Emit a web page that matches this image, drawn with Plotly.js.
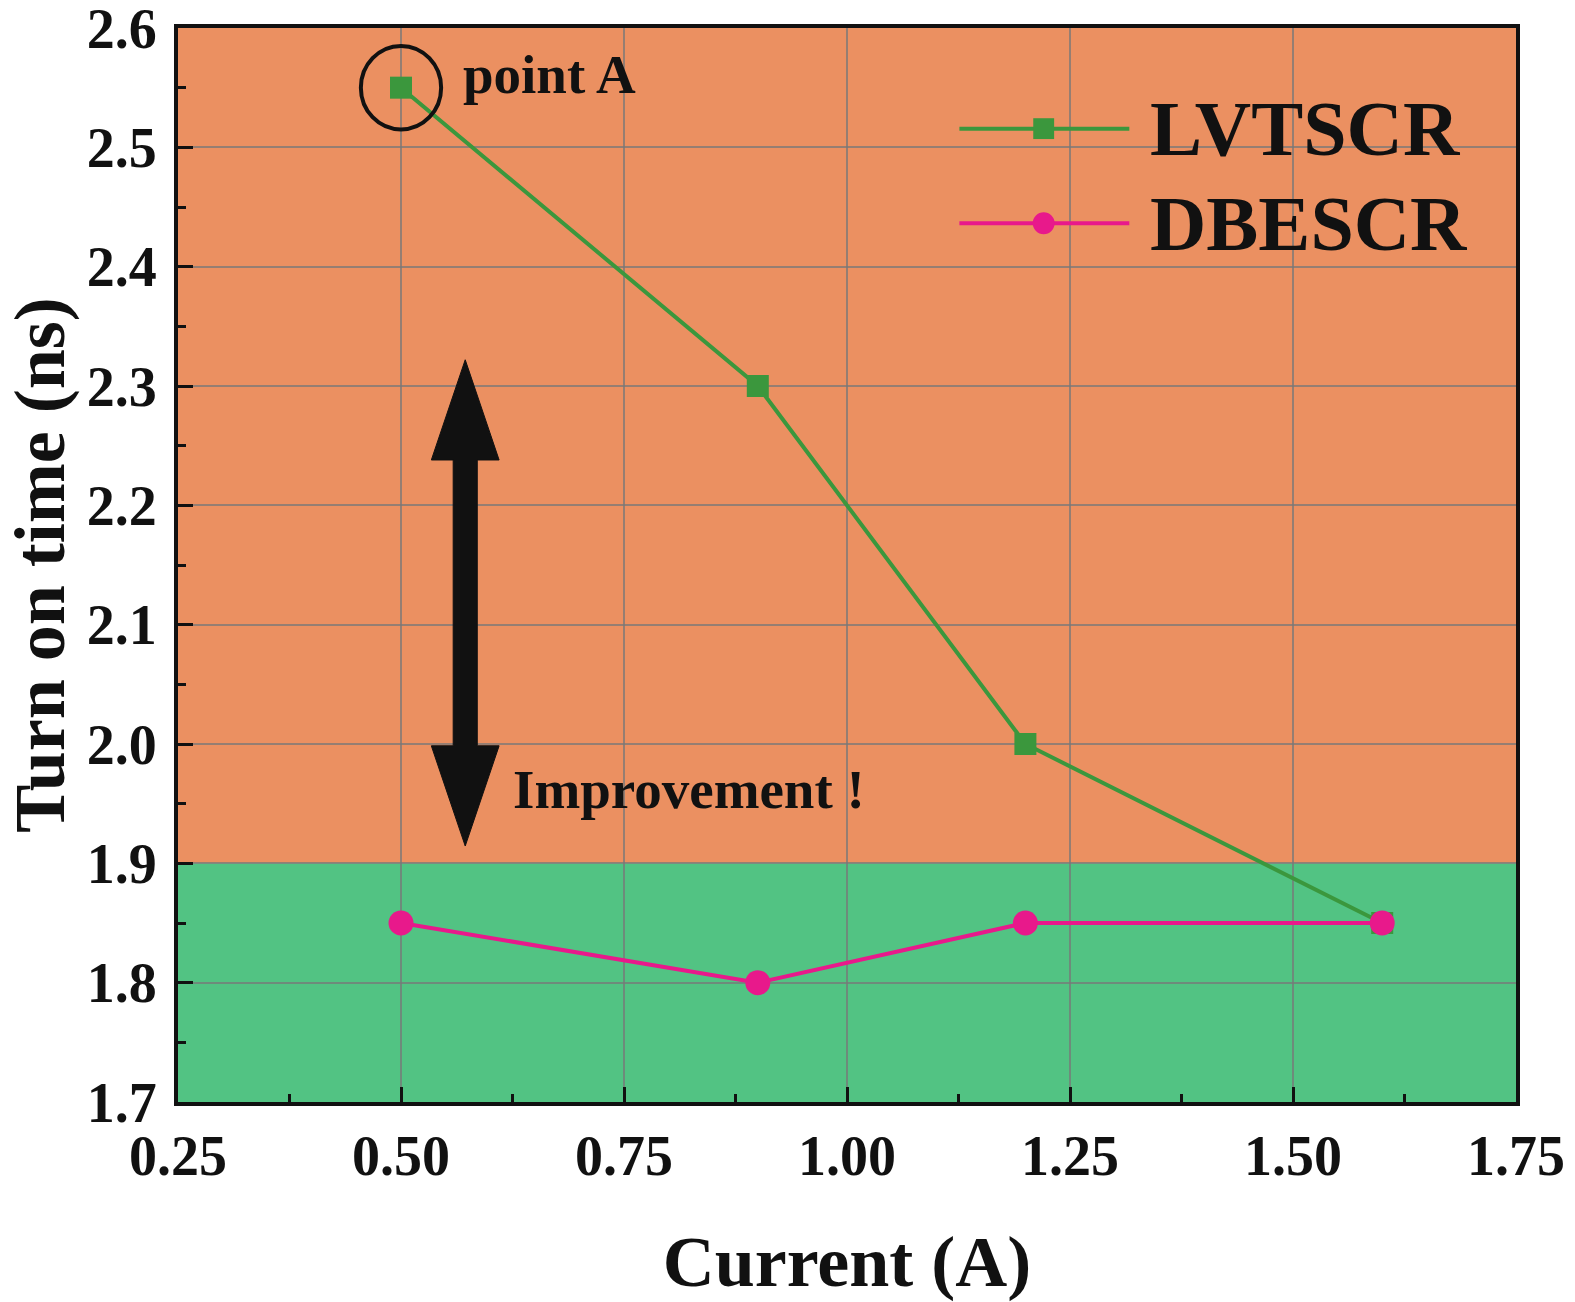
<!DOCTYPE html>
<html>
<head>
<meta charset="utf-8">
<script src="https://cdn.plot.ly/plotly-3.0.1.min.js"></script>
<style>
  html, body { margin: 0; padding: 0; background: #fff; }
  #plot { width: 1575px; height: 1302px; }
</style>
</head>
<body>
<div id="plot"></div>
<script>
// series values
var current = [0.5, 0.9, 1.2, 1.6];
var lvtscr = [2.55, 2.3, 2.0, 1.85];
var dbescr = [1.85, 1.8, 1.85, 1.85];
var seriesNames = ['LVTSCR', 'DBESCR'];

var xTicks = [0.25, 0.5, 0.75, 1.0, 1.25, 1.5, 1.75];
var xTickText = ['0.25', '0.50', '0.75', '1.00', '1.25', '1.50', '1.75'];
var yTicks = [1.7, 1.8, 1.9, 2.0, 2.1, 2.2, 2.3, 2.4, 2.5, 2.6];
var yTickText = ['1.7', '1.8', '1.9', '2.0', '2.1', '2.2', '2.3', '2.4', '2.5', '2.6'];

var limit = 1.9;   // boundary between the two shaded bands

var font = 'Liberation Serif, Times New Roman, serif';
var ink = '#111111';
var green = '#3b973d';
var pink = '#e8198b';
var orangeBg = '#eb9061';
var greenBg = '#52c383';

var line1 = {
	x: current,
	y: lvtscr,
	name: seriesNames[0],
	mode: 'lines+markers',
	line: { color: green, width: 4 },
	marker: { symbol: 'square', size: 22, color: green },
	showlegend: false
};

var line2 = {
	x: current,
	y: dbescr,
	name: seriesNames[1],
	mode: 'lines+markers',
	line: { color: pink, width: 4 },
	marker: { symbol: 'circle', size: 25, color: pink },
	showlegend: false
};

// double headed arrow (data coords)
var ax = 0.572, aTop = 2.322, aBot = 1.9145;
var shaftW = 0.0135, headW = 0.038, headL = 0.084;
var arrowPath = 'M ' + ax + ',' + aTop +
	' L ' + (ax + headW) + ',' + (aTop - headL) +
	' L ' + (ax + shaftW) + ',' + (aTop - headL) +
	' L ' + (ax + shaftW) + ',' + (aBot + headL) +
	' L ' + (ax + headW) + ',' + (aBot + headL) +
	' L ' + ax + ',' + aBot +
	' L ' + (ax - headW) + ',' + (aBot + headL) +
	' L ' + (ax - shaftW) + ',' + (aBot + headL) +
	' L ' + (ax - shaftW) + ',' + (aTop - headL) +
	' L ' + (ax - headW) + ',' + (aTop - headL) + ' Z';

// hand-made legend (paper coords), line is much longer than plotly's own
var legX0 = 0.584, legX1 = 0.711, legXm = 0.647;
var legY = [0.9063, 0.8182];

var shapes = [
	{ type: 'rect', xref: 'paper', yref: 'y', x0: 0, x1: 1, y0: limit, y1: 2.6,
		fillcolor: orangeBg, line: { width: 0 }, layer: 'below' },
	{ type: 'rect', xref: 'paper', yref: 'y', x0: 0, x1: 1, y0: 1.7, y1: limit,
		fillcolor: greenBg, line: { width: 0 }, layer: 'below' },
	{ type: 'circle', xref: 'x', yref: 'y', x0: 0.455, x1: 0.545, y0: 2.515, y1: 2.585,
		line: { color: ink, width: 4 } },
	{ type: 'path', xref: 'x', yref: 'y', path: arrowPath,
		fillcolor: ink, line: { color: ink, width: 1 } },
	{ type: 'line', xref: 'paper', yref: 'paper', x0: legX0, x1: legX1, y0: legY[0], y1: legY[0],
		line: { color: green, width: 4 } },
	{ type: 'rect', xref: 'paper', yref: 'paper', x0: legXm - 0.0078, x1: legXm + 0.0078,
		y0: legY[0] - 0.0097, y1: legY[0] + 0.0097, fillcolor: green, line: { width: 0 } },
	{ type: 'line', xref: 'paper', yref: 'paper', x0: legX0, x1: legX1, y0: legY[1], y1: legY[1],
		line: { color: pink, width: 4 } },
	{ type: 'circle', xref: 'paper', yref: 'paper', x0: legXm - 0.0082, x1: legXm + 0.0082,
		y0: legY[1] - 0.0102, y1: legY[1] + 0.0102, fillcolor: pink, line: { width: 0 } }
];

var annotations = [
	{ xref: 'x', yref: 'y', x: 0.567, y: 2.561, text: 'point A', showarrow: false,
		xanchor: 'left', yanchor: 'middle', font: { family: font, size: 55, color: ink, weight: 'bold' } },
	{ xref: 'x', yref: 'y', x: 0.623, y: 1.962, text: 'Improvement !', showarrow: false,
		xanchor: 'left', yanchor: 'middle', font: { family: font, size: 55, color: ink, weight: 'bold' } },
	{ xref: 'paper', yref: 'paper', x: 0.725, y: legY[0], text: seriesNames[0], showarrow: false,
		xanchor: 'left', yanchor: 'middle', font: { family: font, size: 78, color: ink, weight: 'bold' } },
	{ xref: 'paper', yref: 'paper', x: 0.725, y: legY[1], text: seriesNames[1], showarrow: false,
		xanchor: 'left', yanchor: 'middle', font: { family: font, size: 78, color: ink, weight: 'bold' } }
];

var layout = {
	autosize: false,
	width: 1575,
	height: 1302,
	hovermode: false,
	paper_bgcolor: '#ffffff',
	plot_bgcolor: 'rgba(0,0,0,0)',
	showlegend: false,
	margin: { l: 178, r: 59, t: 28, b: 200 },
	font: { family: font, size: 56, color: ink, weight: 'bold' },
	xaxis: {
		range: [0.25, 1.75],
		tickvals: xTicks,
		ticktext: xTickText,
		ticks: 'inside',
		ticklen: 15,
		tickwidth: 3,
		tickcolor: ink,
		minor: { dtick: 0.125, tick0: 0.25, ticks: 'inside', ticklen: 8, tickwidth: 3, tickcolor: ink, showgrid: false },
		showgrid: true,
		gridcolor: 'rgba(120,120,120,0.75)',
		gridwidth: 2,
		zeroline: false,
		showline: true,
		linecolor: ink,
		linewidth: 4,
		mirror: true,
		ticklabelstandoff: 2,
		ticklabeloverflow: 'allow',
		tickfont: { family: font, size: 56, color: ink, weight: 'bold' },
		title: { text: 'Current (A)', standoff: 56, font: { family: font, size: 72, color: ink, weight: 'bold' } }
	},
	yaxis: {
		range: [1.7, 2.6],
		tickvals: yTicks,
		ticktext: yTickText,
		ticks: 'inside',
		ticklen: 15,
		tickwidth: 3,
		tickcolor: ink,
		minor: { dtick: 0.05, tick0: 1.7, ticks: 'inside', ticklen: 8, tickwidth: 3, tickcolor: ink, showgrid: false },
		showgrid: true,
		gridcolor: 'rgba(120,120,120,0.75)',
		gridwidth: 2,
		zeroline: false,
		showline: true,
		linecolor: ink,
		linewidth: 4,
		mirror: true,
		ticklabelstandoff: 6,
		ticklabeloverflow: 'allow',
		tickfont: { family: font, size: 56, color: ink, weight: 'bold' },
		title: { text: 'Turn on time (ns)', standoff: 0, font: { family: font, size: 72, color: ink, weight: 'bold' } }
	},
	shapes: shapes,
	annotations: annotations
};

var data = [line1, line2];

Plotly.newPlot('plot', data, layout, { displayModeBar: false, staticPlot: true });
</script>
</body>
</html>
